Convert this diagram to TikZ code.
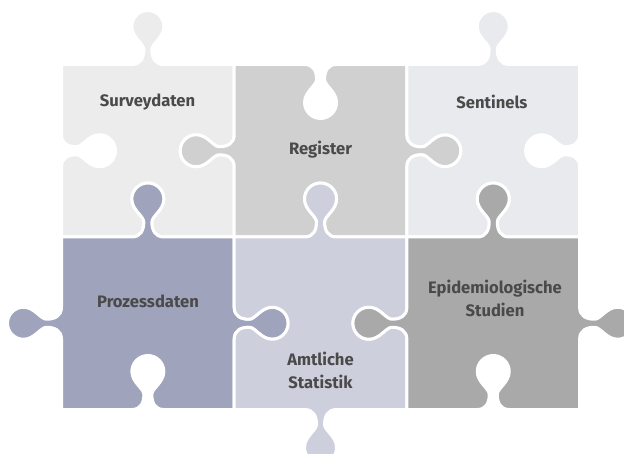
\documentclass[tikz,border=0pt]{standalone}
\usepackage{fontspec}
\setmainfont{Fira Sans}
\definecolor{cSurvey}{HTML}{ECECEC}
\definecolor{cRegister}{HTML}{CFD0CF}
\definecolor{cSentinel}{HTML}{E9EAEE}
\definecolor{cProzess}{HTML}{9FA3BC}
\definecolor{cAmtlich}{HTML}{CDCFDC}
\definecolor{cEpi}{HTML}{A9A9A9}
\definecolor{cText}{HTML}{4A4A4A}
% knob: name, centre x, centre y, travel dx, dy, bump nx, ny
\newcommand\mkknob[7]{%
  \foreach \ki/\ku/\kv in {1/-16/0,2/-7/0,3/-4/7,4/-4/15,5/-4/21,6/-16/27,7/-16/38,8/-16/46.8,9/-8.8/54,10/0/54,11/8.8/54,12/16/46.8,13/16/38,14/16/27,15/4/21,16/4/15,17/4/7,18/7/0,19/16/0}
    {\coordinate (#1-\ki) at ({#2+(\ku)*(#4)+(\kv)*(#6)},{#3+(\ku)*(#5)+(\kv)*(#7)});}%
}
\newcommand\kseg[1]{-- (#1-1) .. controls (#1-2) and (#1-3) .. (#1-4) .. controls (#1-5) and (#1-6) .. (#1-7) .. controls (#1-8) and (#1-9) .. (#1-10) .. controls (#1-11) and (#1-12) .. (#1-13) .. controls (#1-14) and (#1-15) .. (#1-16) .. controls (#1-17) and (#1-18) .. (#1-19)}
\begin{document}
\begin{tikzpicture}[x=1pt,y=-1pt,
  piece/.style={fill=#1,draw=white,line width=3pt,line join=round},
  label/.style={text=cText,font=\bfseries\fontsize{16.6}{23}\selectfont,align=center,inner sep=0pt}]
\clip (0,0) rectangle (624,454);
\fill[white] (0,0) rectangle (624,454);
% grid corners
\coordinate (c00) at (61.5,64.5);  \coordinate (c10) at (234.2,64.5);
\coordinate (c20) at (406.9,64.5); \coordinate (c30) at (579.6,64.5);
\coordinate (c01) at (61.5,237);   \coordinate (c11) at (234.2,237);
\coordinate (c21) at (406.9,237);  \coordinate (c31) at (579.6,237);
\coordinate (c02) at (61.5,409.5); \coordinate (c12) at (234.2,409.5);
\coordinate (c22) at (406.9,409.5);\coordinate (c32) at (579.6,409.5);
% Surveydaten
\mkknob{s-t}{147.85}{64.5}{1}{0}{0}{-1}
\mkknob{s-r}{234.2}{150.75}{0}{1}{-1}{0}
\mkknob{s-b}{147.85}{237}{-1}{0}{0}{-1}
\mkknob{s-l}{61.5}{150.75}{0}{-1}{1}{0}
% Register
\mkknob{r-t}{320.55}{64.5}{1}{0}{0}{1}
\mkknob{r-r}{406.9}{150.75}{0}{1}{1}{0}
\mkknob{r-b}{320.55}{237}{-1}{0}{0}{-1}
\mkknob{r-l}{234.2}{150.75}{0}{-1}{-1}{0}
% Sentinels
\mkknob{n-t}{493.25}{64.5}{1}{0}{0}{-1}
\mkknob{n-r}{579.6}{150.75}{0}{1}{-1}{0}
\mkknob{n-b}{493.25}{237}{-1}{0}{0}{-1}
\mkknob{n-l}{406.9}{150.75}{0}{-1}{1}{0}
% Prozessdaten
\mkknob{p-t}{147.85}{237}{1}{0}{0}{-1}
\mkknob{p-r}{234.2}{323.25}{0}{1}{1}{0}
\mkknob{p-b}{147.85}{409.5}{-1}{0}{0}{-1}
\mkknob{p-l}{61.5}{323.25}{0}{-1}{-1}{0}
% Amtliche Statistik
\mkknob{a-t}{320.55}{237}{1}{0}{0}{-1}
\mkknob{a-r}{406.9}{323.25}{0}{1}{-1}{0}
\mkknob{a-b}{320.55}{409.5}{-1}{0}{0}{1}
\mkknob{a-l}{234.2}{323.25}{0}{-1}{1}{0}
% Epidemiologische Studien
\mkknob{e-t}{493.25}{237}{1}{0}{0}{-1}
\mkknob{e-r}{579.6}{323.25}{0}{1}{1}{0}
\mkknob{e-b}{493.25}{409.5}{-1}{0}{0}{-1}
\mkknob{e-l}{406.9}{323.25}{0}{-1}{-1}{0}
% pieces
\path[piece=cSurvey]   (c00) \kseg{s-t} -- (c10) \kseg{s-r} -- (c11) \kseg{s-b} -- (c01) \kseg{s-l} -- cycle;
\path[piece=cRegister] (c10) \kseg{r-t} -- (c20) \kseg{r-r} -- (c21) \kseg{r-b} -- (c11) \kseg{r-l} -- cycle;
\path[piece=cSentinel] (c20) \kseg{n-t} -- (c30) \kseg{n-r} -- (c31) \kseg{n-b} -- (c21) \kseg{n-l} -- cycle;
\path[piece=cProzess]  (c01) \kseg{p-t} -- (c11) \kseg{p-r} -- (c12) \kseg{p-b} -- (c02) \kseg{p-l} -- cycle;
\path[piece=cAmtlich]  (c11) \kseg{a-t} -- (c21) \kseg{a-r} -- (c22) \kseg{a-b} -- (c12) \kseg{a-l} -- cycle;
\path[piece=cEpi]      (c21) \kseg{e-t} -- (c31) \kseg{e-r} -- (c32) \kseg{e-b} -- (c22) \kseg{e-l} -- cycle;
% labels
\node[label] (survey)   at (147.5,102) {Surveydaten};
\node[label] (register) at (320.5,150) {Register};
\node[label] (sentinel) at (492,102)   {Sentinels};
\node[label] (prozess)  at (148,301)   {Prozessdaten};
\node[label] (amtlich)  at (320.5,370) {Amtliche\\Statistik};
\node[label] (epi)      at (495,298)   {Epidemiologische\\Studien};
\end{tikzpicture}
\end{document}
